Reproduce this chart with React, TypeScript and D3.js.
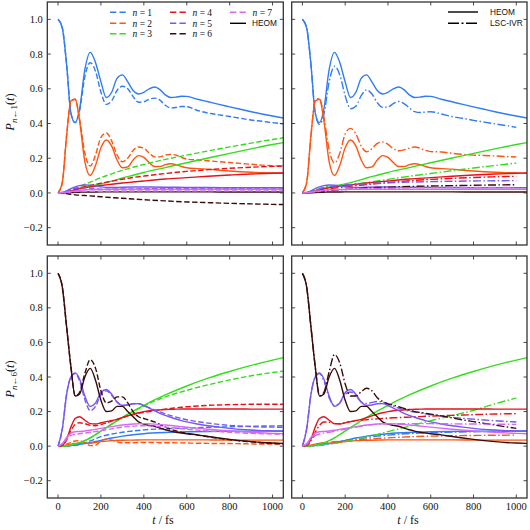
import React from "react";
import * as d3 from "d3";

// time grids (fs)
const TF = [0, 20, 40, 60, 80, 100, 125, 150, 175, 200, 225, 250, 275, 300, 325, 350, 375, 400, 425, 450, 475, 500, 525, 550, 575, 600, 650, 700, 750, 800, 850, 900, 950, 1000, 1050];
const TC = [0, 20, 40, 60, 80, 100, 125, 150, 200, 250, 300, 350, 400, 500, 600, 700, 800, 900, 1000, 1050];

const COLORS = ["#2f7cf6", "#ff5511", "#33dd1b", "#e8111b", "#7757f2", "#3a0b0b", "#d56af2"];
const N_LABELS = ["1", "2", "3", "4", "5", "6", "7"];
const X_TICKS = [0, 200, 400, 600, 800, 1000];
const Y_TICKS = [-0.2, 0, 0.2, 0.4, 0.6, 0.8, 1.0];

// ---- initial state 1: HEOM ----
const h1n1 = [1.0, 0.95, 0.74, 0.46, 0.405, 0.48, 0.71, 0.81, 0.75, 0.64, 0.55, 0.58, 0.66, 0.68, 0.64, 0.59, 0.57, 0.58, 0.60, 0.61, 0.595, 0.565, 0.55, 0.552, 0.557, 0.556, 0.54, 0.525, 0.51, 0.496, 0.482, 0.468, 0.455, 0.443, 0.432];
const h1n2 = [0, 0.06, 0.33, 0.53, 0.54, 0.42, 0.18, 0.10, 0.16, 0.26, 0.305, 0.27, 0.19, 0.145, 0.15, 0.19, 0.215, 0.205, 0.175, 0.152, 0.152, 0.163, 0.168, 0.163, 0.152, 0.145, 0.14, 0.137, 0.131, 0.126, 0.122, 0.119, 0.117, 0.115, 0.113];
const h1n3 = [0, 0.001, 0.005, 0.012, 0.02, 0.028, 0.035, 0.04, 0.052, 0.068, 0.086, 0.102, 0.118, 0.146, 0.174, 0.201, 0.228, 0.254, 0.279, 0.29];
const h1n4 = [0, 0.001, 0.004, 0.01, 0.017, 0.024, 0.03, 0.035, 0.043, 0.05, 0.057, 0.063, 0.069, 0.08, 0.088, 0.096, 0.103, 0.109, 0.113, 0.115];
const h1n5 = [0, 0.003, 0.012, 0.025, 0.035, 0.042, 0.046, 0.045, 0.035, 0.031, 0.033, 0.034, 0.034, 0.033, 0.032, 0.031, 0.03, 0.03, 0.03, 0.03];
const h1n6 = [0, 0, 0.001, 0.002, 0.003, 0.004, 0.005, 0.005, 0.006, 0.006, 0.006, 0.006, 0.006, 0.006, 0.006, 0.006, 0.005, 0.005, 0.005, 0.005];
const h1n7 = [0, 0.001, 0.004, 0.008, 0.012, 0.015, 0.018, 0.019, 0.02, 0.021, 0.021, 0.021, 0.021, 0.021, 0.021, 0.021, 0.021, 0.021, 0.021, 0.021];

// ---- initial state 1: dashed method ----
const d1n1 = [1.0, 0.95, 0.74, 0.46, 0.405, 0.47, 0.67, 0.75, 0.70, 0.58, 0.51, 0.53, 0.59, 0.615, 0.60, 0.555, 0.522, 0.525, 0.54, 0.546, 0.535, 0.505, 0.49, 0.492, 0.498, 0.497, 0.475, 0.46, 0.45, 0.44, 0.43, 0.42, 0.413, 0.405, 0.398];
const d1n2 = [0, 0.06, 0.33, 0.53, 0.54, 0.43, 0.23, 0.155, 0.22, 0.32, 0.345, 0.30, 0.22, 0.18, 0.20, 0.245, 0.265, 0.258, 0.23, 0.208, 0.208, 0.218, 0.222, 0.218, 0.205, 0.195, 0.19, 0.185, 0.18, 0.175, 0.17, 0.165, 0.16, 0.157, 0.153];
const d1n3 = [0, 0.001, 0.006, 0.015, 0.025, 0.037, 0.05, 0.062, 0.088, 0.11, 0.13, 0.148, 0.164, 0.193, 0.218, 0.242, 0.265, 0.287, 0.308, 0.318];
const d1n4 = [0, 0.001, 0.005, 0.012, 0.02, 0.028, 0.036, 0.043, 0.056, 0.068, 0.079, 0.089, 0.097, 0.112, 0.124, 0.134, 0.142, 0.148, 0.153, 0.155];
const d1n5 = [0, 0.003, 0.01, 0.02, 0.027, 0.03, 0.03, 0.028, 0.022, 0.022, 0.023, 0.023, 0.024, 0.024, 0.024, 0.024, 0.024, 0.024, 0.024, 0.024];
const d1n6 = [0, -0.001, -0.004, -0.008, -0.011, -0.013, -0.015, -0.017, -0.022, -0.027, -0.031, -0.035, -0.039, -0.046, -0.052, -0.056, -0.06, -0.063, -0.066, -0.067];
const d1n7 = [0, 0.001, 0.003, 0.005, 0.008, 0.009, 0.01, 0.01, 0.01, 0.011, 0.011, 0.011, 0.012, 0.012, 0.012, 0.012, 0.012, 0.012, 0.012, 0.012];

// ---- initial state 1: LSC-IVR ----
const l1n1 = [1.0, 0.95, 0.74, 0.46, 0.395, 0.45, 0.64, 0.73, 0.68, 0.56, 0.485, 0.50, 0.56, 0.594, 0.57, 0.52, 0.493, 0.495, 0.515, 0.527, 0.515, 0.49, 0.468, 0.463, 0.466, 0.468, 0.455, 0.44, 0.43, 0.418, 0.408, 0.398, 0.388, 0.378];
const l1n2 = [0, 0.06, 0.33, 0.53, 0.545, 0.44, 0.25, 0.172, 0.23, 0.34, 0.372, 0.34, 0.27, 0.237, 0.255, 0.285, 0.294, 0.28, 0.255, 0.243, 0.248, 0.258, 0.265, 0.258, 0.245, 0.238, 0.236, 0.228, 0.222, 0.218, 0.216, 0.213, 0.21, 0.207];
const l1n3 = [0, 0.001, 0.006, 0.015, 0.025, 0.033, 0.038, 0.04, 0.045, 0.052, 0.06, 0.069, 0.078, 0.096, 0.112, 0.128, 0.144, 0.158, 0.172];
const l1n4 = [0, 0.001, 0.004, 0.009, 0.015, 0.02, 0.024, 0.028, 0.035, 0.042, 0.048, 0.054, 0.06, 0.07, 0.078, 0.084, 0.089, 0.093, 0.096];
const l1n5 = [0, 0.002, 0.008, 0.015, 0.022, 0.03, 0.036, 0.04, 0.046, 0.05, 0.053, 0.056, 0.058, 0.062, 0.065, 0.067, 0.069, 0.07, 0.071];
const l1n6 = [0, 0.001, 0.002, 0.004, 0.006, 0.01, 0.014, 0.017, 0.02, 0.024, 0.028, 0.031, 0.033, 0.037, 0.04, 0.042, 0.044, 0.046, 0.047];
const l1n7 = [0, 0.001, 0.003, 0.006, 0.01, 0.013, 0.016, 0.018, 0.021, 0.023, 0.025, 0.026, 0.027, 0.029, 0.03, 0.031, 0.031, 0.032, 0.032];

// ---- initial state 6: HEOM ----
const h6n1 = [0, 0, 0.001, 0.003, 0.006, 0.01, 0.015, 0.02, 0.033, 0.047, 0.058, 0.066, 0.072, 0.079, 0.083, 0.085, 0.086, 0.087, 0.088, 0.088];
const h6n2 = [0, 0.001, 0.005, 0.012, 0.016, 0.017, 0.016, 0.017, 0.026, 0.032, 0.034, 0.035, 0.036, 0.036, 0.036, 0.036, 0.035, 0.035, 0.035, 0.035];
const h6n3 = [0, 0, 0.002, 0.006, 0.012, 0.02, 0.032, 0.048, 0.087, 0.127, 0.166, 0.202, 0.236, 0.296, 0.348, 0.393, 0.432, 0.467, 0.498, 0.512];
const h6n4 = [0, 0.005, 0.04, 0.11, 0.16, 0.17, 0.15, 0.13, 0.128, 0.135, 0.142, 0.148, 0.155, 0.165, 0.175, 0.185, 0.193, 0.2, 0.205, 0.208, 0.21, 0.212, 0.213, 0.214, 0.215, 0.215, 0.215, 0.215, 0.215, 0.215, 0.215, 0.214, 0.214, 0.214, 0.214];
const h6n5 = [0, 0.1, 0.3, 0.4, 0.424, 0.39, 0.29, 0.23, 0.25, 0.31, 0.328, 0.30, 0.255, 0.236, 0.238, 0.245, 0.246, 0.235, 0.22, 0.205, 0.19, 0.178, 0.167, 0.157, 0.148, 0.14, 0.128, 0.118, 0.11, 0.103, 0.097, 0.093, 0.09, 0.088, 0.086];
const h6n6 = [1.0, 0.92, 0.69, 0.46, 0.29, 0.30, 0.40, 0.45, 0.38, 0.265, 0.20, 0.204, 0.23, 0.23, 0.20, 0.17, 0.14, 0.127, 0.12, 0.115, 0.105, 0.095, 0.087, 0.08, 0.076, 0.072, 0.065, 0.056, 0.047, 0.039, 0.032, 0.026, 0.021, 0.018, 0.016];
const h6n7 = [0, 0.015, 0.05, 0.075, 0.083, 0.085, 0.088, 0.092, 0.103, 0.113, 0.122, 0.128, 0.13, 0.122, 0.11, 0.098, 0.088, 0.08, 0.074, 0.072];

// ---- initial state 6: dashed method ----
const d6n1 = [0, 0, 0.001, 0.003, 0.005, 0.01, 0.02, 0.03, 0.055, 0.07, 0.08, 0.088, 0.094, 0.101, 0.105, 0.109, 0.112, 0.115, 0.117, 0.118];
const d6n2 = [0, 0.003, 0.012, 0.022, 0.03, 0.032, 0.02, 0.003, 0.005, 0.03, 0.04, 0.035, 0.025, 0.02, 0.02, 0.02, 0.021, 0.021, 0.021, 0.021, 0.02, 0.02, 0.02, 0.019, 0.019, 0.018, 0.017, 0.016, 0.015, 0.015, 0.014, 0.013, 0.012, 0.012, 0.011];
const d6n3 = [0, 0, 0.002, 0.006, 0.012, 0.02, 0.032, 0.048, 0.087, 0.127, 0.165, 0.2, 0.232, 0.285, 0.323, 0.355, 0.383, 0.407, 0.426, 0.434];
const d6n4 = [0, 0.005, 0.035, 0.09, 0.125, 0.135, 0.13, 0.12, 0.118, 0.125, 0.135, 0.145, 0.155, 0.165, 0.175, 0.183, 0.19, 0.196, 0.2, 0.205, 0.21, 0.214, 0.218, 0.222, 0.225, 0.228, 0.232, 0.236, 0.238, 0.24, 0.241, 0.242, 0.242, 0.242, 0.242];
const d6n5 = [0, 0.1, 0.3, 0.4, 0.42, 0.38, 0.27, 0.205, 0.23, 0.30, 0.32, 0.295, 0.255, 0.235, 0.238, 0.245, 0.245, 0.235, 0.222, 0.21, 0.198, 0.187, 0.177, 0.168, 0.16, 0.153, 0.142, 0.133, 0.126, 0.12, 0.116, 0.113, 0.111, 0.11, 0.109];
const d6n6 = [1.0, 0.92, 0.69, 0.46, 0.29, 0.31, 0.42, 0.50, 0.45, 0.32, 0.25, 0.26, 0.285, 0.285, 0.25, 0.20, 0.17, 0.16, 0.15, 0.14, 0.125, 0.11, 0.098, 0.088, 0.08, 0.074, 0.064, 0.054, 0.045, 0.037, 0.03, 0.025, 0.02, 0.016, 0.013];
const d6n7 = [0, 0.012, 0.04, 0.062, 0.068, 0.072, 0.076, 0.08, 0.09, 0.1, 0.11, 0.116, 0.118, 0.11, 0.098, 0.088, 0.08, 0.074, 0.07, 0.068];

// ---- initial state 6: LSC-IVR ----
const l6n1 = [0, 0, 0.001, 0.003, 0.005, 0.008, 0.013, 0.02, 0.032, 0.042, 0.05, 0.058, 0.064, 0.073, 0.078, 0.081, 0.083, 0.085, 0.086];
const l6n2 = [0, 0.002, 0.006, 0.012, 0.016, 0.02, 0.022, 0.025, 0.03, 0.035, 0.04, 0.044, 0.048, 0.054, 0.058, 0.06, 0.062, 0.063, 0.064];
const l6n3 = [0, 0, 0.001, 0.003, 0.005, 0.008, 0.012, 0.016, 0.027, 0.04, 0.054, 0.068, 0.084, 0.116, 0.147, 0.177, 0.207, 0.245, 0.278];
const l6n4 = [0, 0.005, 0.03, 0.08, 0.12, 0.14, 0.138, 0.13, 0.13, 0.137, 0.142, 0.146, 0.15, 0.153, 0.156, 0.158, 0.16, 0.162, 0.164, 0.165, 0.167, 0.168, 0.17, 0.171, 0.173, 0.174, 0.176, 0.178, 0.18, 0.182, 0.184, 0.186, 0.187, 0.188];
const l6n5 = [0, 0.1, 0.3, 0.4, 0.42, 0.38, 0.28, 0.236, 0.25, 0.30, 0.313, 0.29, 0.255, 0.247, 0.253, 0.258, 0.255, 0.245, 0.232, 0.22, 0.21, 0.203, 0.197, 0.192, 0.187, 0.182, 0.174, 0.167, 0.161, 0.156, 0.151, 0.147, 0.143, 0.14];
const l6n6 = [1.0, 0.92, 0.69, 0.46, 0.29, 0.31, 0.43, 0.53, 0.48, 0.36, 0.29, 0.29, 0.315, 0.335, 0.32, 0.28, 0.258, 0.245, 0.237, 0.228, 0.218, 0.208, 0.2, 0.195, 0.19, 0.185, 0.175, 0.163, 0.152, 0.142, 0.132, 0.122, 0.112, 0.103];
const l6n7 = [0, 0.01, 0.035, 0.06, 0.07, 0.075, 0.08, 0.086, 0.098, 0.11, 0.12, 0.126, 0.129, 0.13, 0.13, 0.129, 0.128, 0.127, 0.126];

const HEOM_1 = [h1n1, h1n2, h1n3, h1n4, h1n5, h1n6, h1n7];
const DASH_1 = [d1n1, d1n2, d1n3, d1n4, d1n5, d1n6, d1n7];
const LSC_1 = [l1n1, l1n2, l1n3, l1n4, l1n5, l1n6, l1n7];
const HEOM_6 = [h6n1, h6n2, h6n3, h6n4, h6n5, h6n6, h6n7];
const DASH_6 = [d6n1, d6n2, d6n3, d6n4, d6n5, d6n6, d6n7];
const LSC_6 = [l6n1, l6n2, l6n3, l6n4, l6n5, l6n6, l6n7];

const DASHED = "5.5,2.4";
const DASHDOT = "8,2.4,1.5,2.4";
const SERIF = "'Liberation Serif', 'Times New Roman', serif";
const SANS = "'Liberation Sans', Arial, sans-serif";

function toPoints(vals: number[]): [number, number][] {
  const grid = vals.length >= 30 ? TF : TC;
  return vals.map((v, i) => [grid[i], v] as [number, number]);
}

type PanelProps = {
  id: string;
  x0: number; x1: number; y0: number; y1: number;
  heom: number[][]; approx: number[][]; dash: string;
  xLabels: boolean; yLabels: boolean;
};

function Panel(p: PanelProps) {
  const x = d3.scaleLinear().domain([-50, 1050]).range([p.x0, p.x1]);
  const y = d3.scaleLinear().domain([-0.3, 1.1]).range([p.y1, p.y0]);
  const line = d3.line<[number, number]>().x(d => x(d[0])).y(d => y(d[1])).curve(d3.curveMonotoneX);
  const tl = 3.5;
  return (
    <g>
      <defs>
        <clipPath id={p.id}>
          <rect x={p.x0} y={p.y0} width={p.x1 - p.x0} height={p.y1 - p.y0} />
        </clipPath>
      </defs>
      <g clipPath={`url(#${p.id})`} fill="none" strokeWidth={1.4} strokeLinejoin="round">
        {COLORS.map((c, i) => (
          <g key={i}>
            <path d={line(toPoints(p.heom[i])) || ""} stroke={c} />
            <path d={line(toPoints(p.approx[i])) || ""} stroke={c} strokeDasharray={p.dash} />
          </g>
        ))}
      </g>
      {/* ticks */}
      <g stroke="#333" strokeWidth={0.9}>
        {X_TICKS.map(t => (
          <g key={"x" + t}>
            <line x1={x(t)} x2={x(t)} y1={p.y1} y2={p.y1 - tl} />
            <line x1={x(t)} x2={x(t)} y1={p.y0} y2={p.y0 + tl} />
          </g>
        ))}
        {Y_TICKS.map(t => (
          <g key={"y" + t}>
            <line x1={p.x0} x2={p.x0 + tl} y1={y(t)} y2={y(t)} />
            <line x1={p.x1} x2={p.x1 - tl} y1={y(t)} y2={y(t)} />
          </g>
        ))}
      </g>
      <rect x={p.x0} y={p.y0} width={p.x1 - p.x0} height={p.y1 - p.y0} fill="none" stroke="#333" strokeWidth={1.3} />
      {p.xLabels && X_TICKS.map(t => (
        <text key={"xl" + t} x={x(t)} y={p.y1 + 12} textAnchor="middle" fontFamily={SERIF} fontSize={10.5} fill="#111">{t}</text>
      ))}
      {p.yLabels && Y_TICKS.map(t => (
        <text key={"yl" + t} x={p.x0 - 4.5} y={y(t) + 3.6} textAnchor="end" fontFamily={SERIF} fontSize={10.5} fill="#111">
          {t < 0 ? "\u2212" + Math.abs(t).toFixed(1) : t.toFixed(1)}
        </text>
      ))}
    </g>
  );
}

function YLabel({ cx, cy, state }: { cx: number; cy: number; state: string }) {
  return (
    <text transform={`translate(${cx},${cy}) rotate(-90)`} textAnchor="middle" fontFamily={SERIF} fontSize={12.5} fill="#111">
      <tspan fontStyle="italic">P</tspan>
      <tspan dy={3} fontSize={9}><tspan fontStyle="italic">n</tspan>{"\u2190" + state}</tspan>
      <tspan dy={-3}>(</tspan>
      <tspan fontStyle="italic">t</tspan>
      <tspan>)</tspan>
    </text>
  );
}

function XLabel({ cx, cy }: { cx: number; cy: number }) {
  return (
    <text x={cx} y={cy} textAnchor="middle" fontFamily={SERIF} fontSize={12} fill="#111">
      <tspan fontStyle="italic">t</tspan>
      <tspan>{" / fs"}</tspan>
    </text>
  );
}

export default function App() {
  const L = [47.3, 283.3];
  const R = [291.7, 527];
  const T = [2, 245];
  const B = [256, 498];
  const legCols = [110, 170, 230];
  const legRows = [12.3, 23.3, 33.7];
  const legItems = N_LABELS.map((n, i) => ({ n, color: COLORS[i], col: Math.floor(i / 3), row: i % 3 }));
  return (
    <svg width={530} height={530} style={{ position: "absolute", left: 0, top: 0, background: "#fff" }}>
      <rect x={0} y={0} width={530} height={530} fill="#fff" />
      <Panel id="c1" x0={L[0]} x1={L[1]} y0={T[0]} y1={T[1]} heom={HEOM_1} approx={DASH_1} dash={DASHED} xLabels={false} yLabels={true} />
      <Panel id="c2" x0={R[0]} x1={R[1]} y0={T[0]} y1={T[1]} heom={HEOM_1} approx={LSC_1} dash={DASHDOT} xLabels={false} yLabels={false} />
      <Panel id="c3" x0={L[0]} x1={L[1]} y0={B[0]} y1={B[1]} heom={HEOM_6} approx={DASH_6} dash={DASHED} xLabels={true} yLabels={true} />
      <Panel id="c4" x0={R[0]} x1={R[1]} y0={B[0]} y1={B[1]} heom={HEOM_6} approx={LSC_6} dash={DASHDOT} xLabels={true} yLabels={false} />

      {/* top-left legend */}
      <g>
        {legItems.map(it => (
          <g key={it.n}>
            <line x1={legCols[it.col]} x2={legCols[it.col] + 16} y1={legRows[it.row]} y2={legRows[it.row]} stroke={it.color} strokeWidth={1.4} strokeDasharray="6.3,3.2" />
            <text x={legCols[it.col] + 22.5} y={legRows[it.row] + 3.2} fontFamily={SERIF} fontSize={9.5} fill="#111">
              <tspan fontStyle="italic">n</tspan>
              <tspan>{" = " + it.n}</tspan>
            </text>
          </g>
        ))}
        <line x1={legCols[2]} x2={legCols[2] + 16} y1={legRows[1]} y2={legRows[1]} stroke="#000" strokeWidth={1.4} />
        <text x={legCols[2] + 22} y={legRows[1] + 3} fontFamily={SANS} fontSize={8.3} fill="#111">HEOM</text>
      </g>

      {/* top-right legend */}
      <g>
        <line x1={448} x2={478} y1={12} y2={12} stroke="#000" strokeWidth={1.4} />
        <text x={490} y={15} fontFamily={SANS} fontSize={8.3} fill="#111">HEOM</text>
        <line x1={448} x2={478} y1={23.3} y2={23.3} stroke="#000" strokeWidth={1.4} strokeDasharray="11,2.5,2,2.5" />
        <text x={490} y={26.3} fontFamily={SANS} fontSize={8.3} fill="#111">LSC-IVR</text>
      </g>

      <YLabel cx={13.5} cy={112} state="1" />
      <YLabel cx={13.5} cy={379} state="6" />
      <XLabel cx={163} cy={524} />
      <XLabel cx={408} cy={524} />
    </svg>
  );
}
